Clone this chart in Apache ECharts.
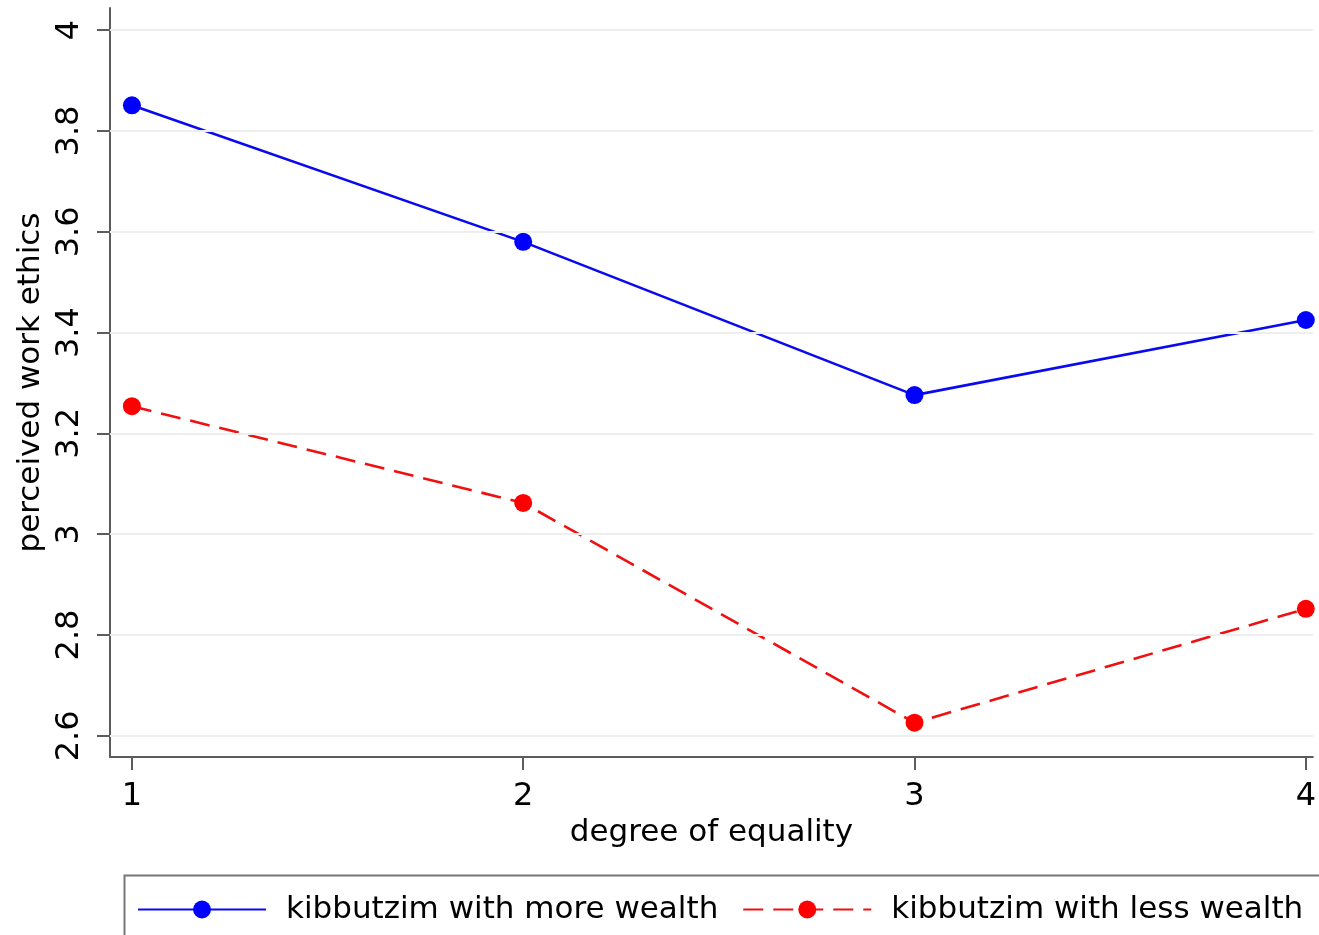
<!DOCTYPE html>
<html><head><meta charset="utf-8">
<script src="https://cdn.jsdelivr.net/npm/echarts@6/dist/echarts.min.js"></script>
<style>html,body{margin:0;padding:0;background:#fff;overflow:hidden}#c{width:1319px;height:935px}</style>
</head><body><div id="c"></div>
<script>
const xValues = [1, 2, 3, 4];
const moreWealth = [3.851, 3.580, 3.276, 3.425];
const lessWealth = [3.254, 3.062, 2.626, 2.852];
const yTicks = [2.6, 2.8, 3.0, 3.2, 3.4, 3.6, 3.8, 4.0];
const xTicks = [1, 2, 3, 4];
const seriesNames = ['kibbutzim with more wealth', 'kibbutzim with less wealth'];
const xTitle = 'degree of equality';
const yTitle = 'perceived work ethics';

const FONT = 'DejaVu Sans';
const axisColor = '#5c5c5c';
const chart = echarts.init(document.getElementById('c'), null, {renderer: 'canvas', width: 1319, height: 935});
const pairs = arr => xValues.map((x, i) => [x, arr[i]]);

chart.setOption({
  animation: false,
  backgroundColor: '#fff',
  textStyle: {fontFamily: FONT},
  grid: {left: 110, right: 0, top: 8, bottom: 178, containLabel: false},
  graphic: [{
    type: 'rect', left: 122, top: 873, z: 0, silent: true,
    shape: {width: 1260, height: 100},
    style: {fill: 'none', stroke: '#777', lineWidth: 2}
  }],
  xAxis: {
    type: 'value', min: 0.944, max: 4.018,
    name: xTitle, nameLocation: 'middle', nameGap: 56,
    nameTextStyle: {fontSize: 31, color: '#000', fontFamily: FONT, verticalAlign: 'top'},
    axisLine: {show: true, lineStyle: {color: axisColor, width: 2}},
    axisTick: {show: true, length: 13, lineStyle: {color: axisColor, width: 2}, customValues: xTicks},
    axisLabel: {fontSize: 32, color: '#000', margin: 24, fontFamily: FONT, customValues: xTicks},
    splitLine: {show: false}
  },
  yAxis: {
    type: 'value', min: 2.558, max: 4.044,
    name: yTitle, nameLocation: 'middle', nameGap: 60, nameRotate: 90,
    nameTextStyle: {fontSize: 31, color: '#000', fontFamily: FONT},
    axisLine: {show: true, lineStyle: {color: axisColor, width: 2}},
    axisTick: {show: true, length: 13, lineStyle: {color: axisColor, width: 2}, customValues: yTicks},
    axisLabel: {fontSize: 32, color: '#000', margin: 24, rotate: 90, fontFamily: FONT, customValues: yTicks},
    splitLine: {show: false}
  },
  legend: {
    left: 122, top: 873,
    padding: [21, 5, 30, 15],
    borderWidth: 0,
    itemWidth: 128, itemHeight: 22.5, itemGap: 24,
    textStyle: {fontSize: 31, color: '#000', fontFamily: FONT, padding: [0, 0, 0, 15]},
    data: seriesNames
  },
  series: [
    {
      name: 'grid', type: 'line', data: [], silent: true, z: 0,
      markLine: {
        silent: true, symbol: ['none', 'none'], label: {show: false},
        lineStyle: {color: '#eeeeee', width: 2, type: 'solid'},
        data: yTicks.map(v => ({yAxis: v}))
      }
    },
    {
      name: seriesNames[0], type: 'line', data: pairs(moreWealth), z: 3,
      symbol: 'circle', symbolSize: 18,
      itemStyle: {color: '#0000ff'},
      lineStyle: {color: '#0a0af0', width: 2.6, type: 'solid'}
    },
    {
      name: seriesNames[1], type: 'line', data: pairs(lessWealth), z: 3,
      symbol: 'circle', symbolSize: 18,
      itemStyle: {color: '#ff0000'},
      lineStyle: {color: '#f01010', width: 2.6, type: [20, 10]}
    }
  ]
});
</script></body></html>
